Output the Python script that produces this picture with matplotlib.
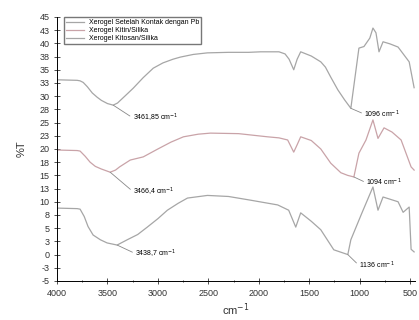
import numpy as np
from matplotlib import pyplot as plt
from matplotlib.ticker import FuncFormatter, MultipleLocator

plt.rcParams['font.family'] = ['Liberation Sans', 'DejaVu Sans']

# bilangan gelombang (cm-1) dan %T
wn_pb = [4000, 3800, 3771, 3740, 3700, 3650, 3602, 3560, 3500, 3443, 3400, 3350, 3300, 3245,
         3146, 3046, 2950, 2850, 2777, 2650, 2509, 2300, 2100, 1982, 1800, 1740, 1700, 1654,
         1620, 1585, 1480, 1386, 1340, 1287, 1217, 1150, 1088, 1008, 958, 900, 869, 839, 809,
         769, 700, 620, 510, 461]
t_pb = [33.1, 33.0, 32.9, 32.6, 31.8, 30.6, 29.8, 29.2, 28.6, 28.3, 28.7, 29.6, 30.5, 31.5,
        33.5, 35.3, 36.3, 37.0, 37.4, 37.9, 38.2, 38.3, 38.3, 38.4, 38.4, 38.0, 37.0, 35.0,
        37.0, 38.4, 37.6, 36.5, 35.5, 33.6, 31.2, 29.3, 27.7, 39.1, 39.4, 41.0, 42.9, 42.0,
        38.4, 40.3, 39.9, 39.3, 36.5, 31.6]

wn_kitin = [4000, 3800, 3771, 3720, 3672, 3620, 3560, 3473, 3420, 3380, 3274, 3145, 3000,
            2870, 2747, 2600, 2479, 2200, 1913, 1800, 1714, 1654, 1620, 1585, 1480, 1386,
            1287, 1187, 1120, 1058, 1008, 938, 869, 819, 759, 680, 590, 491, 461]
t_kitin = [19.8, 19.7, 19.6, 18.6, 17.5, 16.7, 16.2, 15.6, 16.0, 16.6, 17.9, 18.5, 20.0,
           21.3, 22.3, 22.8, 23.0, 22.9, 22.3, 22.1, 21.7, 19.4, 20.8, 22.3, 21.6, 20.0,
           17.3, 15.5, 15.0, 14.7, 19.2, 21.7, 25.5, 22.0, 24.0, 23.2, 21.7, 16.6, 16.0]

wn_kitosan = [4000, 3800, 3771, 3730, 3692, 3642, 3570, 3503, 3404, 3304, 3200, 3105, 3000,
              2906, 2800, 2707, 2509, 2300, 2082, 1813, 1704, 1634, 1585, 1480, 1386, 1257,
              1180, 1118, 1088, 980, 869, 819, 769, 620, 570, 510, 491, 461]
t_kitosan = [8.8, 8.7, 8.6, 7.2, 5.3, 3.7, 2.8, 2.2, 1.8, 2.8, 3.8, 5.2, 6.8, 8.4, 9.7,
             10.7, 11.2, 11.0, 10.3, 9.4, 8.4, 5.2, 7.9, 6.3, 4.7, 0.9, 0.4, 0.0, 2.8, 7.8,
             12.8, 8.4, 10.9, 10.0, 8.0, 9.0, 1.0, 0.5]

labels = ['Xerogel Setelah Kontak dengan Pb', 'Xerogel Kitin/Silika', 'Xerogel Kitosan/Silika']
colors = ['#a6a6a6', '#c9a3a8', '#a6a6a6']

# (puncak, posisi teks, teks)
notes = [
    ((3443, 28.3), (3250, 25.9), '3461,85 cm$^{-1}$'),
    ((3473, 15.6), (3245, 11.9), '3466,4 cm$^{-1}$'),
    ((3404, 1.8), (3225, 0.2), '3438,7 cm$^{-1}$'),
    ((1088, 27.7), (955, 26.6), '1096 cm$^{-1}$'),
    ((1058, 14.7), (935, 13.6), '1094 cm$^{-1}$'),
    ((1118, 0.0), (1005, -2.1), '1136 cm$^{-1}$'),
]


def fmt_y(v, pos):
    return f"{int(np.sign(v) * np.floor(abs(v) + 0.5))}"


fig = plt.figure(figsize=(4.19, 3.2), dpi=100)
ax = fig.add_axes([0.136, 0.122, 0.855, 0.825])

for x, y, lab, c in zip([wn_pb, wn_kitin, wn_kitosan], [t_pb, t_kitin, t_kitosan], labels, colors):
    ax.plot(x, y, color=c, lw=0.9, label=lab)

for xy, xyt, txt in notes:
    ax.annotate(txt, xy=xy, xytext=xyt, fontsize=5, va='center', ha='left',
                arrowprops=dict(arrowstyle='-', color='#888888', lw=0.6, shrinkA=0, shrinkB=0,
                                relpos=(0, 0.5)))

ax.set_xlim(4000, 450)
ax.set_ylim(-5, 45)
ax.xaxis.set_major_locator(MultipleLocator(500))
ax.xaxis.set_minor_locator(MultipleLocator(250))
ax.yaxis.set_major_locator(MultipleLocator(2.5))
ax.yaxis.set_major_formatter(FuncFormatter(fmt_y))
ax.tick_params(axis='both', which='major', direction='inout', length=4, width=0.6,
               labelsize=6.5, colors='#333333')
ax.tick_params(axis='x', which='minor', direction='inout', length=2, width=0.5)
ax.spines['top'].set_visible(False)
ax.spines['right'].set_visible(False)
ax.spines['left'].set_linewidth(0.7)
ax.spines['bottom'].set_linewidth(0.7)
ax.set_xlabel('cm$^{-1}$', fontsize=8, color='#333333', labelpad=3)
ax.set_ylabel('%T', fontsize=8, color='#333333', labelpad=9)

ax.legend(loc='upper left', bbox_to_anchor=(0.02, 1.0), fontsize=5, frameon=True,
          fancybox=False, edgecolor='#555555', handlelength=2.5, borderpad=0.3,
          labelspacing=0.15, borderaxespad=0)

fig.savefig('out.png', dpi=100)
